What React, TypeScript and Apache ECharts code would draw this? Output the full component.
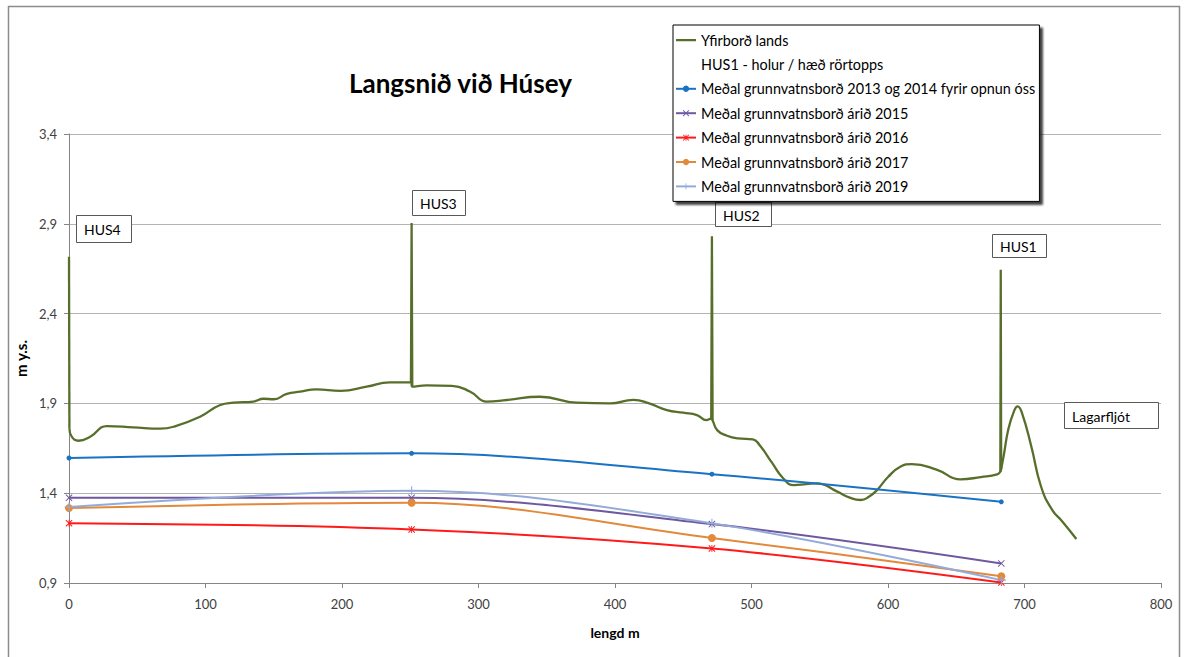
import React, { useEffect, useRef } from "react";
import * as echarts from "echarts";

// ---- data ----
const wellX = [0, 251, 471, 683];
const wellNames = ["HUS4", "HUS3", "HUS2", "HUS1"];

const gw2013_2014 = [1.596, 1.622, 1.506, 1.352];
const gw2015 = [1.375, 1.374, 1.228, 1.009];
const gw2016 = [1.233, 1.198, 1.092, 0.903];
const gw2017 = [1.317, 1.347, 1.151, 0.938];
const gw2019 = [1.323, 1.413, 1.232, 0.916];

// ground surface profile (without the pipe tops)
const terrainX = [
  0.3, 2, 7, 15.5, 27.8, 47, 66.8, 76.6, 96, 110.8, 120.5, 135, 142.5, 150, 159.6, 169.4, 181, 199, 218,
  235, 250.5, 251.5, 262, 280.5, 294, 306, 320.8, 345, 372, 396.5, 413.5, 425, 438, 450, 460, 467,
  470.5, 471.5, 475, 482, 490, 501, 506, 515, 523, 531, 540, 548, 562.5, 572, 580, 586, 592, 600,
  609, 617.5, 636, 653, 668, 680, 682.3, 682.9, 685, 688, 692, 695, 698, 705, 712, 720, 728, 738,
];
const terrainY = [
  1.76, 1.715, 1.692, 1.714, 1.774, 1.767, 1.759, 1.77, 1.826, 1.891, 1.904, 1.91, 1.926, 1.923,
  1.953, 1.965, 1.978, 1.97, 1.993, 2.017, 2.017, 1.993, 2.0, 1.998, 1.965, 1.91, 1.919, 1.937,
  1.904, 1.9, 1.92, 1.9, 1.863, 1.848, 1.835, 1.807, 1.815, 1.805, 1.75, 1.72, 1.705, 1.7, 1.667,
  1.57, 1.485, 1.445, 1.45, 1.455, 1.41, 1.375, 1.362, 1.38, 1.418, 1.49, 1.547, 1.562, 1.53, 1.477,
  1.49, 1.505, 1.52, 1.535, 1.62, 1.75, 1.85, 1.883, 1.85, 1.66, 1.44, 1.31, 1.24, 1.145,
];

// pipe tops (hæð rörtopps)
const pipeX = [0, 251, 471, 682.6];
const pipeTop = [2.717, 2.905, 2.83, 2.644];

const yTicks = { min: 0.9, max: 3.4, interval: 0.5 };
const xTicks = { min: 0, max: 800, interval: 100 };

const FONT = 'Lato, "Open Sans", "DejaVu Sans", sans-serif';
const TERRAIN_COLOR = "#586f2c";

const X_SYM = "path://M1,0L5,4L9,0L10,1L6,5L10,9L9,10L5,6L1,10L0,9L4,5L0,1Z";
const STAR_SYM =
  "path://M1,0L5,4L9,0L10,1L6,5L10,9L9,10L5,6L1,10L0,9L4,5L0,1Z M4.4,0L5.6,0L5.6,10L4.4,10Z";
const PLUS_SYM = "path://M4.4,0L5.6,0L5.6,4.4L10,4.4L10,5.6L5.6,5.6L5.6,10L4.4,10L4.4,5.6L0,5.6L0,4.4L4.4,4.4Z";
const LINE_ICON = "path://M0,0L20,0L20,0Z M0,3L20,3L20,5.2L0,5.2Z M0,8L20,8L20,8Z";

function pairs(xs: number[], ys: number[]) {
  return xs.map((x, i) => [x, ys[i]]);
}

function spikeData(i: number) {
  const px = pipeX[i];
  const pts: number[][] = [];
  let li = -1;
  for (let k = 0; k < terrainX.length; k++) if (terrainX[k] <= px) li = k;
  if (li >= 0) pts.push([terrainX[li], terrainY[li]]);
  pts.push([px, pipeTop[i]]);
  const ri = li + 1;
  if (ri < terrainX.length) pts.push([terrainX[ri], terrainY[ri]]);
  return pts;
}

function box(x: number, y: number, w: number, h: number, label: string) {
  return [
    {
      type: "rect",
      z: 50,
      shape: { x: x + 0.5, y: y + 0.5, width: w, height: h },
      style: { fill: "#fff", stroke: "#595959", lineWidth: 1 },
    },
    {
      type: "text",
      z: 51,
      x: x + 8,
      y: y + h / 2 + 1,
      style: { text: label, fill: "#000", font: `14px ${FONT}`, textVerticalAlign: "middle" },
    },
  ];
}

export default function App() {
  const ref = useRef<HTMLDivElement>(null);
  useEffect(() => {
    if (!ref.current) return;
    const chart = echarts.init(ref.current, undefined, { renderer: "svg" });
    const gwSeries = (name: string, data: number[], color: string, symbol: string, size: number) => ({
      name,
      type: "line",
      data: pairs(wellX, data),
      smooth: 0.35,
      symbol,
      symbolSize: size,
      showAllSymbol: true,
      lineStyle: { color, width: 2 },
      itemStyle: { color },
      z: 3,
    });
    const spikes = pipeX.map((_, i) => ({
      name: "Yfirborð lands",
      type: "line",
      data: spikeData(i),
      smooth: false,
      symbol: "none",
      lineStyle: { color: TERRAIN_COLOR, width: 2.3 },
      itemStyle: { color: TERRAIN_COLOR },
      z: 2,
    }));
    chart.setOption({
      animation: false,
      backgroundColor: "#fff",
      textStyle: { fontFamily: FONT },
      title: {
        text: "Langsnið við Húsey",
        left: 344,
        top: 65,
        textStyle: { fontSize: 26, fontWeight: "bold", color: "#000", fontFamily: FONT },
      },
      legend: {
        orient: "vertical",
        left: 673,
        top: 25,
        padding: [8, 4, 8, 2],
        itemWidth: 20,
        itemHeight: 8,
        itemGap: 10.4,
        backgroundColor: "#fff",
        borderColor: "#000",
        borderWidth: 1,
        shadowColor: "rgba(0,0,0,0.75)",
        shadowBlur: 2,
        shadowOffsetX: 3,
        shadowOffsetY: 3,
        selectedMode: false,
        textStyle: { fontSize: 14.4, color: "#000", fontFamily: FONT, lineHeight: 14 },
        data: [
          { name: "Yfirborð lands", icon: LINE_ICON },
          "HUS1 - holur / hæð rörtopps",
          "Meðal grunnvatnsborð 2013 og 2014 fyrir opnun óss",
          "Meðal grunnvatnsborð árið 2015",
          "Meðal grunnvatnsborð árið 2016",
          "Meðal grunnvatnsborð árið 2017",
          "Meðal grunnvatnsborð árið 2019",
        ],
        z: 60,
      },
      grid: { left: 69, right: 24, top: 134, bottom: 74 },
      xAxis: {
        type: "value",
        min: xTicks.min,
        max: xTicks.max,
        interval: xTicks.interval,
        name: "lengd m",
        nameLocation: "middle",
        nameGap: 42,
        nameTextStyle: { fontSize: 14, fontWeight: "bold", color: "#000" },
        axisLine: { lineStyle: { color: "#868686" } },
        axisTick: { show: true, length: 5, lineStyle: { color: "#868686" } },
        axisLabel: { fontSize: 13, color: "#404040", margin: 14 },
        splitLine: { show: false },
      },
      yAxis: {
        type: "value",
        min: yTicks.min,
        max: yTicks.max,
        interval: yTicks.interval,
        name: "m y.s.",
        nameLocation: "middle",
        nameGap: 38,
        nameTextStyle: { fontSize: 15, fontWeight: "bold", color: "#000" },
        axisLine: { show: true, lineStyle: { color: "#868686" } },
        axisTick: { show: true, length: 5, lineStyle: { color: "#868686" } },
        axisLabel: {
          fontSize: 13,
          color: "#404040",
          margin: 12,
          formatter: (v: number) => v.toFixed(1).replace(".", ","),
        },
        splitLine: { lineStyle: { color: "#b3b3b3" } },
      },
      series: [
        {
          name: "Yfirborð lands",
          type: "line",
          data: pairs(terrainX, terrainY),
          smooth: 0.5,
          symbol: "none",
          lineStyle: { color: TERRAIN_COLOR, width: 2.3 },
          itemStyle: { color: TERRAIN_COLOR },
          z: 2,
        },
        ...spikes,
        {
          name: "HUS1 - holur / hæð rörtopps",
          type: "line",
          data: [],
          symbol: "none",
          lineStyle: { color: "rgba(0,0,0,0)", width: 0 },
          itemStyle: { color: "rgba(0,0,0,0)" },
        },
        gwSeries("Meðal grunnvatnsborð 2013 og 2014 fyrir opnun óss", gw2013_2014, "#1a72c4", "circle", 5),
        gwSeries("Meðal grunnvatnsborð árið 2015", gw2015, "#6f58a0", X_SYM, 7),
        gwSeries("Meðal grunnvatnsborð árið 2016", gw2016, "#ff1a1a", STAR_SYM, 7),
        gwSeries("Meðal grunnvatnsborð árið 2017", gw2017, "#e2893c", "circle", 8),
        gwSeries("Meðal grunnvatnsborð árið 2019", gw2019, "#94abd9", PLUS_SYM, 9),
      ],
      graphic: [
        {
          type: "rect",
          z: 0,
          silent: true,
          shape: { x: 8.5, y: 6.5, width: 1171, height: 670 },
          style: { fill: "none", stroke: "#8c8c8c", lineWidth: 1.5 },
        },
        ...box(76, 215, 55, 27, wellNames[0]),
        ...box(412, 190, 53, 25, wellNames[1]),
        ...box(715, 202, 56, 24, wellNames[2]),
        ...box(992, 234, 54, 23, wellNames[3]),
        ...box(1064, 402, 94, 26, "Lagarfljót"),
      ],
    });
    return () => chart.dispose();
  }, []);
  return (
    <div
      ref={ref}
      style={{ position: "absolute", left: 0, top: 0, width: 1185, height: 657, background: "#fff" }}
    />
  );
}
